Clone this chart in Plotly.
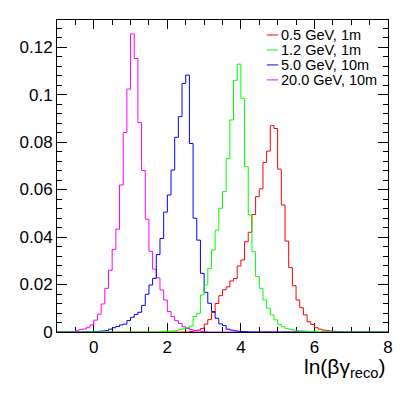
"""Reconstructed ln(beta*gamma) distributions for four beam settings."""

import plotly.graph_objects as go

# histogram binning of the x axis
bin_low = -1.0
bin_width = 0.1
n_bins = 90

labels = ["0.5 GeV, 1m", "1.2 GeV, 1m", "5.0 GeV, 10m", "20.0 GeV, 10m"]
colors = ["#ff0000", "#00ff00", "#0000ff", "#ff00ff"]

# first filled bin (lower edge) and the bin contents from there on
red_first = 2.6
red_counts = [
    0.0002, 0.0004, 0.0008, 0.0015, 0.0033, 0.0052, 0.0082, 0.0120, 0.0153,
    0.0178, 0.0190, 0.0215, 0.0225, 0.0278, 0.0303, 0.0380, 0.0420, 0.0495,
    0.0570, 0.0603, 0.0714, 0.0762, 0.0869, 0.0857, 0.0686, 0.0535, 0.0383,
    0.0271, 0.0195, 0.0135, 0.0102, 0.0072, 0.0043, 0.0032, 0.0018, 0.0012,
    0.0008, 0.0006, 0.0004, 0.0003, 0.0002, 0.0002, 0.0001,
]

green_first = 1.7
green_counts = [
    0.0001, 0.0002, 0.0003, 0.0004, 0.0005, 0.0007, 0.0010, 0.0013, 0.0018,
    0.0025, 0.0065, 0.0079, 0.0156, 0.0198, 0.0268, 0.0345, 0.0429, 0.0521,
    0.0591, 0.0731, 0.0893, 0.1060, 0.1128, 0.0984, 0.0696, 0.0493, 0.0338,
    0.0233, 0.0184, 0.0135, 0.0100, 0.0072, 0.0051, 0.0032, 0.0022, 0.0015,
    0.0011, 0.0008, 0.0006, 0.0005, 0.0004, 0.0003, 0.0003, 0.0002, 0.0002,
    0.0001, 0.0001,
]

blue_first = -0.3
blue_counts = [
    0.0001, 0.0001, 0.0001, 0.0002, 0.0003, 0.0004, 0.0006, 0.0012, 0.0018,
    0.0023, 0.0030, 0.0033, 0.0048, 0.0062, 0.0074, 0.0083, 0.0112, 0.0159,
    0.0198, 0.0226, 0.0326, 0.0394, 0.0505, 0.0577, 0.0682, 0.0820, 0.0907,
    0.1047, 0.1082, 0.0794, 0.0479, 0.0387, 0.0247, 0.0167, 0.0121, 0.0086,
    0.0058, 0.0034, 0.0027, 0.0012, 0.0008, 0.0005, 0.0003, 0.0002, 0.0001,
]

magenta_first = -0.7
magenta_counts = [
    0.0001, 0.0002, 0.0007, 0.0010, 0.0013, 0.0020, 0.0030, 0.0050, 0.0075,
    0.0118, 0.0184, 0.0260, 0.0348, 0.0433, 0.0619, 0.0840, 0.1023, 0.1255,
    0.1152, 0.0882, 0.0680, 0.0475, 0.0340, 0.0265, 0.0228, 0.0177, 0.0135,
    0.0086, 0.0065, 0.0048, 0.0036, 0.0022, 0.0015, 0.0010, 0.0006, 0.0004,
    0.0002, 0.0001,
]

x_tick_values = [0, 2, 4, 6, 8]
y_tick_values = [0, 0.02, 0.04, 0.06, 0.08, 0.1, 0.12]
y_tick_labels = ["0", "0.02", "0.04", "0.06", "0.08", "0.1", "0.12"]

FONT = "Liberation Sans, Arial, Helvetica, sans-serif"


def full_histogram(first, counts):
    """Pad the filled bins with empty ones over the whole axis."""
    offset = round((first - bin_low) / bin_width)
    contents = [0.0] * n_bins
    contents[offset:offset + len(counts)] = counts
    edges = [round(bin_low + i * bin_width, 4) for i in range(n_bins + 1)]
    return edges, contents + [contents[-1]]


series = {
    labels[0]: (red_first, red_counts, colors[0]),
    labels[1]: (green_first, green_counts, colors[1]),
    labels[2]: (blue_first, blue_counts, colors[2]),
    labels[3]: (magenta_first, magenta_counts, colors[3]),
}

fig = go.Figure()
for label in [labels[0], labels[3], labels[2], labels[1]]:
    first, counts, color = series[label]
    edges, contents = full_histogram(first, counts)
    fig.add_trace(
        go.Scatter(
            x=edges,
            y=contents,
            mode="lines",
            line={"shape": "hv", "color": color, "width": 1},
            name=label,
            showlegend=False,
        )
    )

# ROOT-like legend: short line sample plus text, 15 px per entry
legend_line_x = (0.634, 0.668)
legend_text_x = 0.671
legend_top = 0.952
legend_step = 0.048
for i, (label, color) in enumerate(zip(labels, colors)):
    y = legend_top - i * legend_step
    fig.add_shape(
        type="line",
        xref="paper",
        yref="paper",
        x0=legend_line_x[0],
        x1=legend_line_x[1],
        y0=y,
        y1=y,
        line={"color": color, "width": 1},
    )
    fig.add_annotation(
        text=label,
        xref="paper",
        yref="paper",
        x=legend_text_x,
        y=y,
        xanchor="left",
        yanchor="middle",
        showarrow=False,
        font={"family": FONT, "size": 14.5, "color": "black"},
    )

fig.add_annotation(
    text="ln(βγ<sub>reco</sub>)",
    xref="paper",
    yref="paper",
    x=1.0,
    y=-0.068,
    xanchor="right",
    yanchor="top",
    showarrow=False,
    font={"family": FONT, "size": 21, "color": "black"},
)

axis_style = {
    "showline": True,
    "linecolor": "black",
    "linewidth": 1,
    "mirror": "allticks",
    "ticks": "inside",
    "tickcolor": "black",
    "tickwidth": 1,
    "showgrid": False,
    "zeroline": False,
    "tickfont": {"family": FONT, "size": 17, "color": "black"},
}

fig.update_xaxes(
    range=[-1, 8],
    tickvals=x_tick_values,
    ticklen=9,
    minor={"dtick": 0.5, "tick0": 0, "ticks": "inside", "ticklen": 5,
           "tickcolor": "black"},
    layer="below traces",
    **axis_style,
)
fig.update_yaxes(
    range=[0, 0.1314],
    tickvals=y_tick_values,
    ticktext=y_tick_labels,
    ticklen=10,
    minor={"dtick": 0.004, "tick0": 0, "ticks": "inside", "ticklen": 5,
           "tickcolor": "black"},
    **axis_style,
)

# the page body adds an 8 px offset, so the figure is 8 px smaller
fig.update_layout(
    width=399,
    height=388,
    margin={"l": 49, "r": 19, "t": 12, "b": 64},
    paper_bgcolor="white",
    plot_bgcolor="white",
    font={"family": FONT, "color": "black"},
)

fig.write_html("out.html")
